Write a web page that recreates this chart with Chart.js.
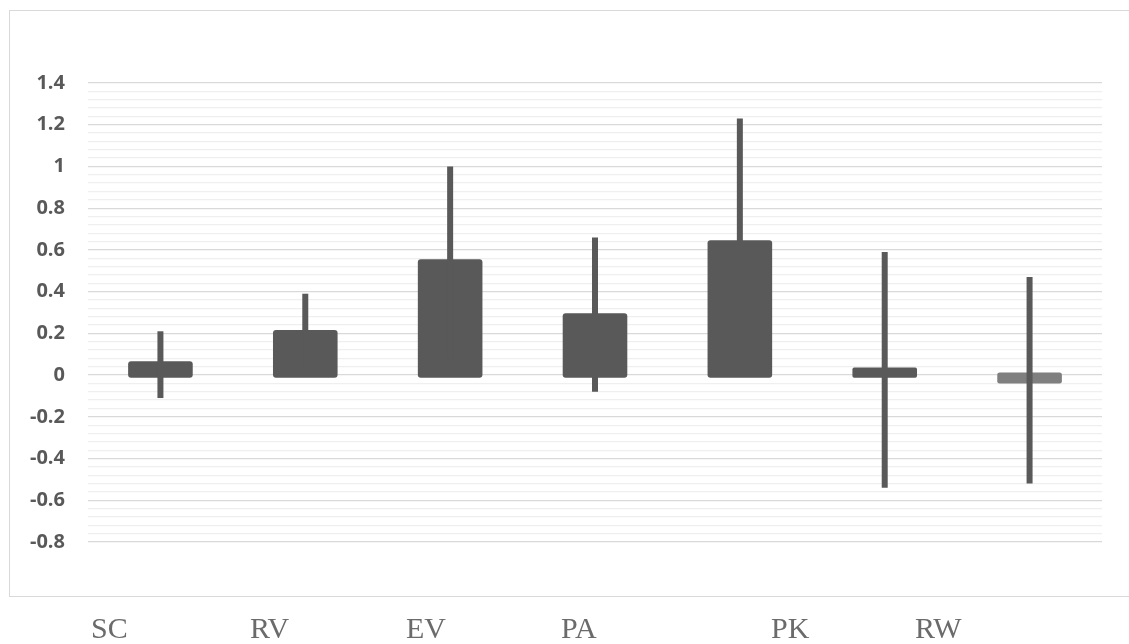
<!DOCTYPE html>
<html>
<head>
<meta charset="utf-8">
<script src="https://cdn.jsdelivr.net/npm/chart.js@4/dist/chart.umd.min.js"></script>
<style>
  body { margin: 0; background: #fff; }
  #wrap { position: relative; width: 1129px; height: 644px; overflow: hidden; }
  #frame { position: absolute; left: 9px; top: 10px; width: 1140px; height: 587px; border: 1px solid #d9d9d9; box-sizing: border-box; }
  #chart { position: absolute; left: 0; top: 0; }
  .lbl { position: absolute; top: 611px; font-family: "Liberation Serif", "DejaVu Serif", serif; font-size: 30px; color: #6b6b6b; line-height: 34px; }
</style>
</head>
<body>
<div id="wrap">
  <div id="frame"></div>
  <canvas id="chart" width="1129" height="644"></canvas>
  <span class="lbl" style="left:91px">SC</span>
  <span class="lbl" style="left:250px">RV</span>
  <span class="lbl" style="left:406px">EV</span>
  <span class="lbl" style="left:561px">PA</span>
  <span class="lbl" style="left:771px">PK</span>
  <span class="lbl" style="left:915px">RW</span>
</div>
<script>
// categories (the last one has no label in the picture)
const categories = ["SC", "RV", "EV", "PA", "PK", "RW", ""];
const means = [0.05, 0.2, 0.54, 0.28, 0.63, 0.02, -0.025];
const errLow = [-0.11, 0.01, 0.08, -0.08, 0.03, -0.54, -0.52];
const errHigh = [0.21, 0.39, 1.0, 0.66, 1.23, 0.59, 0.47];
const barColors = ["#595959", "#595959", "#595959", "#595959", "#595959", "#595959", "#7f7f7f"];

const whiskers = errLow.map((lo, i) => [lo, errHigh[i]]);

function isMajor(v) {
  return Math.abs(v / 0.2 - Math.round(v / 0.2)) < 1e-6;
}

new Chart(document.getElementById("chart"), {
  type: "bar",
  data: {
    labels: categories,
    datasets: [
      {
        data: whiskers,
        backgroundColor: "#595959",
        barThickness: 6,
        grouped: false,
        inflateAmount: 0,
        order: 0
      },
      {
        data: means,
        backgroundColor: barColors,
        barThickness: 58,
        grouped: false,
        inflateAmount: 3.3,
        borderRadius: 3,
        borderSkipped: false,
        order: 1
      }
    ]
  },
  options: {
    responsive: false,
    animation: false,
    layout: { padding: { left: 0, top: 83, right: 27, bottom: 102 } },
    plugins: { legend: { display: false }, tooltip: { enabled: false } },
    scales: {
      x: { display: false },
      y: {
        min: -0.8,
        max: 1.4,
        afterFit: (scale) => { scale.width = 88; },
        border: { display: false },
        grid: {
          drawTicks: false,
          lineWidth: 1.3,
          color: (ctx) => isMajor(ctx.tick.value) ? "#d9d9d9" : "#efefef"
        },
        ticks: {
          stepSize: 0.04,
          maxTicksLimit: 100,
          autoSkip: false,
          padding: 23,
          color: "#595959",
          font: { family: "'Open Sans', 'Liberation Sans', sans-serif", size: 20, weight: "bold" },
          callback: (v) => {
            if (!isMajor(v)) return "";
            const r = Math.round(v * 10) / 10;
            return r === 0 ? "0" : String(r);
          }
        }
      }
    }
  }
});
</script>
</body>
</html>
